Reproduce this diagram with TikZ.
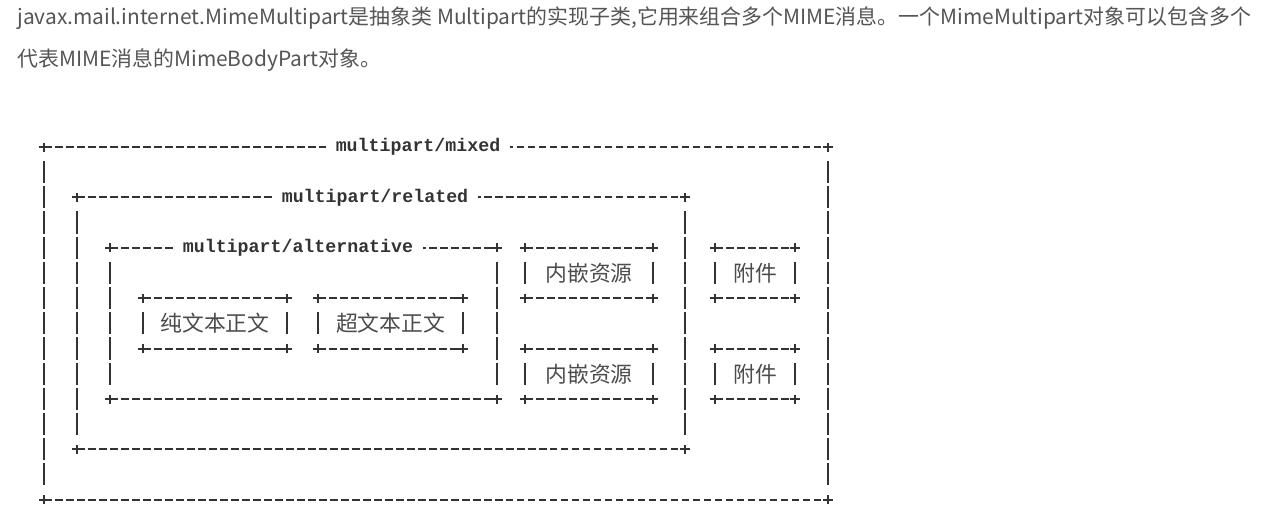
\documentclass[tikz,border=0pt]{standalone}
\usepackage{fontspec}
\usetikzlibrary{calc}
\newfontfamily\cjkfont{Noto Sans CJK SC}
\setmonofont{Liberation Mono}
\definecolor{linegray}{HTML}{333333}
\definecolor{textgray}{HTML}{555555}
\tikzset{
  hbar/.style={draw=linegray,line width=1.1pt,dash pattern=on 4.3pt off 1.96pt},
  vbar/.style={draw=linegray,line width=1.1pt,dash pattern=on 12.6pt off 1.74pt},
  corner/.style={draw=linegray,line width=1.1pt},
  boxtitle/.style={fill=white,inner xsep=0.2cm,inner ysep=2pt,text=linegray,
    font=\ttfamily\bfseries\fontsize{10.4pt}{12pt}\selectfont},
  parttext/.style={inner sep=0pt,text=textgray!90!black,font=\cjkfont\fontsize{12.4pt}{14pt}\selectfont},
  para/.style={anchor=west,inner sep=0pt,text=textgray,font=\cjkfont\fontsize{11.9pt}{14pt}\selectfont}
}
% one ascii box: name, left, top, right, bottom (pixels)
\newcommand{\partbox}[5]{%
  \coordinate (#1-nw) at (#2,#3);
  \coordinate (#1-ne) at (#4,#3);
  \coordinate (#1-sw) at (#2,#5);
  \coordinate (#1-se) at (#4,#5);
  \draw[hbar] (#1-nw) -- (#1-ne) (#1-sw) -- (#1-se);
  \draw[vbar] ($(#1-nw)+(0,14)$) -- ($(#1-sw)+(0,-14)$);
  \draw[vbar] ($(#1-ne)+(0,14)$) -- ($(#1-se)+(0,-14)$);
  \foreach \c in {nw,ne,sw,se}
    \draw[corner] (#1-\c) +(-5,0) -- +(5,0) +(0,-4.5) -- +(0,4.5);
}
\begin{document}
\begin{tikzpicture}[x=0.02cm,y=-0.02cm]
\useasboundingbox[fill=white] (0,0) rectangle (1270,515);
\node[para] (line1) at (17,18) {javax.mail.internet.MimeMultipart是抽象类 Multipart的实现子类,它用来组合多个MIME消息。一个MimeMultipart对象可以包含多个};
\node[para] (line2) at (17,60) {代表MIME消息的MimeBodyPart对象。};
% nested parts
\partbox{mixed}{44}{147}{828}{499.8}
\partbox{related}{77}{197.4}{685}{449.4}
\partbox{alter}{110}{247.8}{497}{399}
\partbox{plain}{143}{298.2}{287}{348.6}
\partbox{hyper}{318}{298.2}{463}{348.6}
\foreach \i/\top in {1/247.8,2/348.6} {
  \partbox{inline\i}{525}{\top}{653}{\top+50.4}
  \partbox{attach\i}{715}{\top}{795}{\top+50.4}
}
\node[boxtitle] (mixedtitle) at (418,147) {multipart/mixed};
\node[boxtitle] (relatedtitle) at (375,197.4) {multipart/related};
\node[boxtitle] (altertitle) at (298,247.8) {multipart/alternative};
\node[parttext] (plaintext) at ($(plain-nw)!0.5!(plain-se)$) {纯文本正文};
\node[parttext] (hypertext) at ($(hyper-nw)!0.5!(hyper-se)$) {超文本正文};
\foreach \i in {1,2} {
  \node[parttext] (inline\i text) at ($(inline\i-nw)!0.5!(inline\i-se)$) {内嵌资源};
  \node[parttext] (attach\i text) at ($(attach\i-nw)!0.5!(attach\i-se)$) {附件};
}
\end{tikzpicture}
\end{document}
